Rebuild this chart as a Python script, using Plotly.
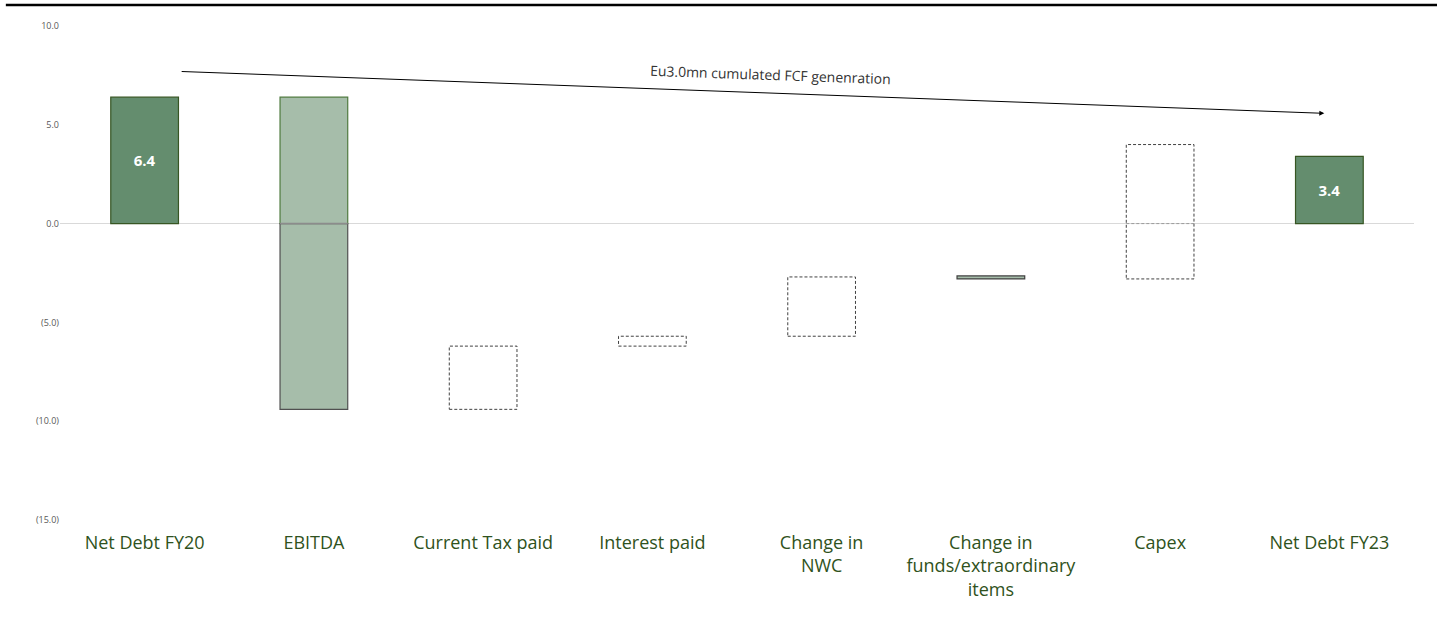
import plotly.graph_objects as go

# ---- data ----
categories = ["Net Debt FY20", "EBITDA", "Current Tax paid", "Interest paid",
              "Change in<br>NWC", "Change in<br>funds/extraordinary<br>items",
              "Capex", "Net Debt FY23"]
bar_low = [0.0, -9.4, -9.4, -6.2, -5.7, -2.8, -2.8, 0.0]
bar_high = [6.4, 6.4, -6.2, -5.7, -2.7, -2.65, 4.0, 3.4]
bar_labels = ["6.4", "", "", "", "", "", "", "3.4"]
y_tick_vals = [10, 5, 0, -5, -10, -15]
y_tick_text = ["10.0", "5.0", "0.0", "(5.0)", "(10.0)", "(15.0)"]
arrow_text = "Eu3.0mn cumulated FCF genenration"
arrow_start = (0.21, 7.7)
arrow_end = (6.97, 5.58)

total_idx = [0, 7]
solid_idx = [1, 5]
dashed_idx = [2, 3, 4, 6]

BAR_W = 0.4


def segments(lo, hi):
    if lo < 0 < hi:
        return [(0.0, hi), (lo, 0.0)]
    return [(lo, hi)]


fig = go.Figure()

# totals
fig.add_trace(go.Bar(
    x=total_idx,
    y=[bar_high[i] - bar_low[i] for i in total_idx],
    base=[bar_low[i] for i in total_idx],
    width=BAR_W,
    marker=dict(color="#648D6E", line=dict(color="#375623", width=1.2)),
    text=[bar_labels[i] for i in total_idx],
    textposition="inside", insidetextanchor="middle",
    textfont=dict(color="white", size=15, family="Open Sans"),
    texttemplate="<b>%{text}</b>",
    showlegend=False, hoverinfo="skip",
))

# solid floating bars (split at zero)
for i in solid_idx:
    segs = segments(bar_low[i], bar_high[i])
    for lo, hi in segs:
        if len(segs) > 1:
            line_col = "#4F7A3F" if hi > 0 else "#505050"
        else:
            line_col = "#404040"
        fig.add_trace(go.Bar(
            x=[i], y=[hi - lo], base=[lo], width=BAR_W,
            marker=dict(color="#A6BDAA", line=dict(color=line_col, width=1.2)),
            showlegend=False, hoverinfo="skip",
        ))
    if len(segs) > 1:
        xl, xr = i - BAR_W / 2, i + BAR_W / 2
        fig.add_trace(go.Scatter(
            x=[xl, xr], y=[0, 0], mode="lines",
            line=dict(color="#8C8C8C", width=1.5),
            showlegend=False, hoverinfo="skip",
        ))

# dashed boxes (with a separator at zero when crossing it)
for i in dashed_idx:
    lo, hi = bar_low[i], bar_high[i]
    xl, xr = i - BAR_W / 2, i + BAR_W / 2
    fig.add_trace(go.Scatter(
        x=[xl, xr, xr, xl, xl], y=[lo, lo, hi, hi, lo],
        mode="lines",
        line=dict(color="#404040", width=1, dash="3px,2px"),
        showlegend=False, hoverinfo="skip",
    ))
    if lo < 0 < hi:
        fig.add_trace(go.Scatter(
            x=[xl, xr], y=[0, 0], mode="lines",
            line=dict(color="#9A9A9A", width=1, dash="3px,2px"),
            showlegend=False, hoverinfo="skip",
        ))

# arrow
fig.add_annotation(
    x=arrow_end[0], y=arrow_end[1], ax=arrow_start[0], ay=arrow_start[1],
    xref="x", yref="y", axref="x", ayref="y",
    text="", showarrow=True, arrowhead=2, arrowsize=1, arrowwidth=1,
    arrowcolor="black", standoff=0, startstandoff=0,
)
fig.add_annotation(
    x=3.695, y=7.55, xref="x", yref="y", text=arrow_text, showarrow=False,
    textangle=2, font=dict(family="Open Sans", size=14, color="#333333"),
)

# top border line
fig.add_shape(type="line", xref="paper", yref="paper",
              x0=-0.04, x1=1.02, y0=1.0425, y1=1.0425,
              line=dict(color="black", width=2.5))

fig.update_layout(
    width=1437, height=624,
    margin=dict(l=60, r=23, t=26, b=104),
    plot_bgcolor="white", paper_bgcolor="white",
    barmode="overlay",
    xaxis=dict(range=[-0.5, 7.5], tickvals=list(range(len(categories))),
               ticktext=categories, showgrid=False, zeroline=False,
               showline=False, ticks="", ticklabelstandoff=10,
               tickfont=dict(family="Open Sans", size=18, color="#2F5220")),
    yaxis=dict(range=[-15, 10], tickvals=y_tick_vals, ticktext=y_tick_text,
               showgrid=False, zeroline=True, zerolinecolor="#d9d9d9",
               zerolinewidth=1, showline=False, ticks="",
               tickfont=dict(family="Open Sans", size=9, color="#595959")),
)

fig.write_html("out.html", config={"displayModeBar": False},
               post_script="document.body.style.margin='0';")
